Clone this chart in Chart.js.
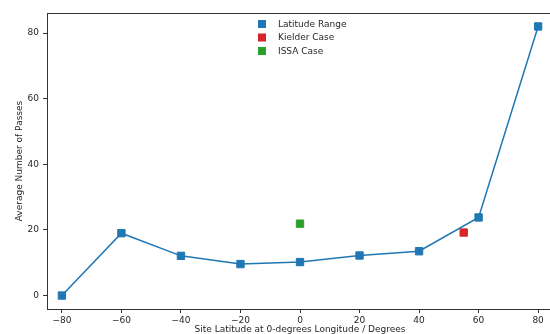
<!DOCTYPE html>
<html>
<head>
<meta charset="utf-8">
<title>Average Number of Passes vs Site Latitude</title>
<script src="https://cdn.jsdelivr.net/npm/chart.js@4/dist/chart.umd.min.js"></script>
<style>
  html, body { margin: 0; padding: 0; background: #fff; overflow: hidden; }
  #wrap { width: 560px; height: 340px; }
</style>
</head>
<body>
<div id="wrap"><canvas id="chart" width="560" height="340"></canvas></div>
<script>
// Site latitudes along the 0-degrees longitude meridian and average passes
const latitudes = [-80, -60, -40, -20, 0, 20, 40, 60, 80];
const avgPasses = [0, 19.0, 12.1, 9.6, 10.2, 12.2, 13.5, 23.8, 82];

// Individual case studies
const kielderLat = [55];
const kielderPasses = [19.2];
const issaLat = [0];
const issaPasses = [21.9];

const seriesLabels = ['Latitude Range', 'Kielder Case', 'ISSA Case'];
const xTicks = [-80, -60, -40, -20, 0, 20, 40, 60, 80];
const yTicks = [0, 20, 40, 60, 80];

const BLUE = '#1f77b4', RED = '#d62728', GREEN = '#2ca02c';
const FONT = { family: "'DejaVu Sans', sans-serif", size: 9 };
const INK = '#262626';

const toPoints = (xs, ys) => xs.map((x, i) => ({ x, y: ys[i] }));
const minus = v => String(v).replace('-', '\u2212');

// Frame line on top plus a legend laid out in the upper middle of the plot
const framePlugin = {
  id: 'frameAndLegend',
  afterDraw(chart) {
    const { ctx, chartArea: a } = chart;
    ctx.save();
    ctx.strokeStyle = '#333';
    ctx.lineWidth = 1;
    ctx.beginPath();
    ctx.moveTo(a.left, a.top + 0.5);
    ctx.lineTo(a.right, a.top + 0.5);
    ctx.stroke();

    const boxX = 262, textX = 278, rowY0 = 24, rowStep = 13.5, side = 8;
    ctx.font = "9px 'DejaVu Sans', sans-serif";
    ctx.textBaseline = 'middle';
    ctx.textAlign = 'left';
    chart.data.datasets.forEach((ds, i) => {
      const y = rowY0 + i * rowStep;
      ctx.fillStyle = ds.pointBackgroundColor;
      ctx.fillRect(boxX - side / 2, y - side / 2, side, side);
      ctx.fillStyle = INK;
      ctx.fillText(ds.label, textX, y + 0.5);
    });
    ctx.restore();
  }
};

new Chart(document.getElementById('chart'), {
  type: 'scatter',
  data: {
    datasets: [
      {
        label: seriesLabels[0],
        data: toPoints(latitudes, avgPasses),
        showLine: true,
        borderColor: BLUE,
        borderWidth: 1.5,
        pointStyle: 'rect',
        pointRadius: 5.2,
        pointBorderWidth: 1,
        pointBackgroundColor: BLUE,
        pointBorderColor: BLUE,
        tension: 0
      },
      {
        label: seriesLabels[1],
        data: toPoints(kielderLat, kielderPasses),
        pointStyle: 'rect',
        pointRadius: 5.2,
        pointBorderWidth: 1,
        pointBackgroundColor: RED,
        pointBorderColor: RED
      },
      {
        label: seriesLabels[2],
        data: toPoints(issaLat, issaPasses),
        pointStyle: 'rect',
        pointRadius: 5.2,
        pointBorderWidth: 1,
        pointBackgroundColor: GREEN,
        pointBorderColor: GREEN
      }
    ]
  },
  options: {
    responsive: false,
    animation: false,
    layout: { padding: { top: 13, right: 7, left: 0, bottom: 0 } },
    plugins: {
      legend: { display: false },
      tooltip: { enabled: false }
    },
    scales: {
      x: {
        type: 'linear',
        min: -85,
        max: 85,
        afterFit(scale) { scale.height = 31; },
        afterBuildTicks(scale) { scale.ticks = xTicks.map(v => ({ value: v })); },
        border: { display: true, color: '#333', width: 1 },
        grid: { drawOnChartArea: false, drawTicks: true, tickLength: 4, tickColor: '#333' },
        ticks: { color: INK, font: FONT, padding: 2, callback: v => minus(v) },
        title: {
          display: true,
          text: 'Site Latitude at 0-degrees Longitude / Degrees',
          color: INK,
          font: FONT,
          padding: { top: 0, bottom: 4.6 }
        }
      },
      y: {
        type: 'linear',
        min: -4.1,
        max: 86.1,
        afterFit(scale) { scale.width = 47; },
        afterBuildTicks(scale) { scale.ticks = yTicks.map(v => ({ value: v })); },
        border: { display: true, color: '#333', width: 1 },
        grid: { drawOnChartArea: false, drawTicks: true, tickLength: 4, tickColor: '#333' },
        ticks: { color: INK, font: FONT, padding: 4, callback: v => minus(v) },
        title: {
          display: true,
          text: 'Average Number of Passes',
          color: INK,
          font: FONT,
          padding: { top: 14.3, bottom: 0 }
        }
      }
    }
  },
  plugins: [framePlugin]
});
</script>
</body>
</html>
